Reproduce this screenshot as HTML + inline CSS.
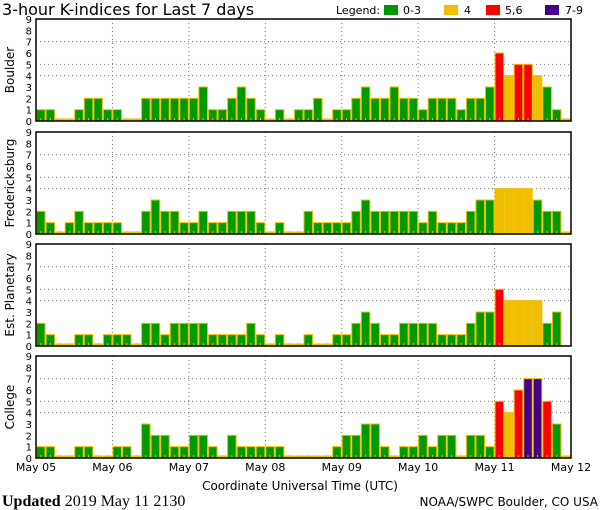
<!DOCTYPE html>
<html><head><meta charset="utf-8"><style>
body{margin:0;background:#fff;}
svg{display:block;font-family:"DejaVu Sans","Liberation Sans",sans-serif;}
</style></head><body>
<svg id="chart" width="600" height="510" viewBox="0 0 600 510" xmlns="http://www.w3.org/2000/svg">
<rect width="600" height="510" fill="#fff"/>
<text x="2" y="15" font-size="16" fill="#000">3-hour K-indices for Last 7 days</text>
<g font-size="11">
<text x="336" y="14">Legend:</text>
<rect x="384" y="5" width="14" height="10" fill="#009900"/>
<text x="403" y="14">0-3</text>
<rect x="444" y="5" width="14" height="10" fill="#f0c000"/>
<text x="464" y="14">4</text>
<rect x="486" y="5" width="14" height="10" fill="#ff0000"/>
<text x="505" y="14">5,6</text>
<rect x="545" y="5" width="14" height="10" fill="#440088"/>
<text x="565" y="14">7-9</text>
</g>
<g id="panels"></g>
<g id="xaxis" font-size="11"></g>
<text x="300" y="490" font-size="12" text-anchor="middle">Coordinate Universal Time (UTC)</text>
<text x="2" y="506" font-size="16" font-family="Liberation Serif, serif"><tspan font-weight="bold">Updated</tspan> 2019 May 11 2130</text>
<text x="598" y="506" font-size="12" text-anchor="end">NOAA/SWPC Boulder, CO USA</text>
</svg>
<script>
const days = ["May 05","May 06","May 07","May 08","May 09","May 10","May 11","May 12"];
const stations = ["Boulder","Fredericksburg","Est. Planetary","College"];
const yTicks = [0,1,2,3,4,5,6,7,8,9];
const boulder = [1,1,0,0,1,2,2,1, 1,0,0,2,2,2,2,2, 2,3,1,1,2,3,2,1, 0,1,0,1,1,2,0,1, 1,2,3,2,2,3,2,2, 1,2,2,2,1,2,2,3, 6,4,5,5,4,3,1,0];
const fredericksburg = [2,1,0,1,2,1,1,1, 1,0,0,2,3,2,2,1, 1,2,1,1,2,2,2,1, 0,1,0,0,2,1,1,1, 1,2,3,2,2,2,2,2, 1,2,1,1,1,2,3,3, 4,4,4,4,3,2,2,0];
const planetary = [2,1,0,0,1,1,0,1, 1,1,0,2,2,1,2,2, 2,2,1,1,1,1,2,1, 0,1,0,0,1,0,0,1, 1,2,3,2,1,1,2,2, 2,2,1,1,1,2,3,3, 5,4,4,4,4,2,3,null];
const college = [1,1,0,0,1,1,0,0, 1,1,0,3,2,2,1,1, 2,2,1,0,2,1,1,1, 1,1,0,0,0,0,0,1, 2,2,3,3,1,0,1,1, 2,1,2,2,0,2,2,1, 5,4,6,7,7,5,3,0];
const series = [boulder, fredericksburg, planetary, college];

const NS="http://www.w3.org/2000/svg";
const X0=36, X1=571, panelTops=[19,132,244,356], PH=102;
const nBars=56;
const xScale = i => X0 + (X1-X0)*i/nBars;
const yScale = (v,top) => top+PH - PH*v/9;
function mk(tag,attrs,parent){const e=document.createElementNS(NS,tag);for(const k in attrs)e.setAttribute(k,attrs[k]);parent.appendChild(e);return e;}
function col(v){return v<=3?"#009900":v==4?"#f0c000":v<=6?"#ff0000":"#440088";}
const panels=document.getElementById("panels");
series.forEach((data,p)=>{
  const top=panelTops[p];
  const g=mk("g",{},panels);
  
  
  [4,5,7].forEach(v=>{const l=mk("line",{x1:X0,x2:X1,y1:yScale(v,top),y2:yScale(v,top),stroke:"#777","stroke-dasharray":"1,3"},g);
    
    });
  for(let d=1;d<7;d++){const x=xScale(d*8);const l=mk("line",{x1:x,x2:x,y1:top,y2:top+PH,stroke:"#777","stroke-dasharray":"1,3"},g);
    
    }
  data.forEach((v,i)=>{
    if(v===null)return;
    const x=xScale(i), w=xScale(i+1)-x;
    let y=yScale(v,top), h=top+PH-y;
    if(v===0){y=top+PH-2;h=2;}
    const r=mk("rect",{x:x+0.5,y:y,width:w-1,height:h,fill:v===0?"#f0c000":col(v),stroke:"#f0c000","stroke-width":1},g);
    
    
    const t=mk("line",{x1:x+w/2,x2:x+w/2,y1:top+PH,y2:top+PH-3,stroke:"#f0c000"},g);
    
    
  });
  const f=mk("rect",{x:X0,y:top,width:X1-X0,height:PH,fill:"none",stroke:"#000","stroke-width":1.5},g);
  
  
  yTicks.forEach(v=>{const t=mk("text",{x:32,y:yScale(v,top)+4,"font-size":10,"text-anchor":"end"},g);t.textContent=v;
    
    });
  const yt=mk("text",{x:0,y:0,"font-size":12,"text-anchor":"middle",transform:`translate(14,${top+PH/2}) rotate(-90)`},g);
  yt.textContent=stations[p];
  
  
});
const xa=document.getElementById("xaxis");
days.forEach((d,i)=>{const t=mk("text",{x:xScale(i*8),y:471,"text-anchor":"middle"},xa);t.textContent=d;
  
  });
</script>
</body></html>
